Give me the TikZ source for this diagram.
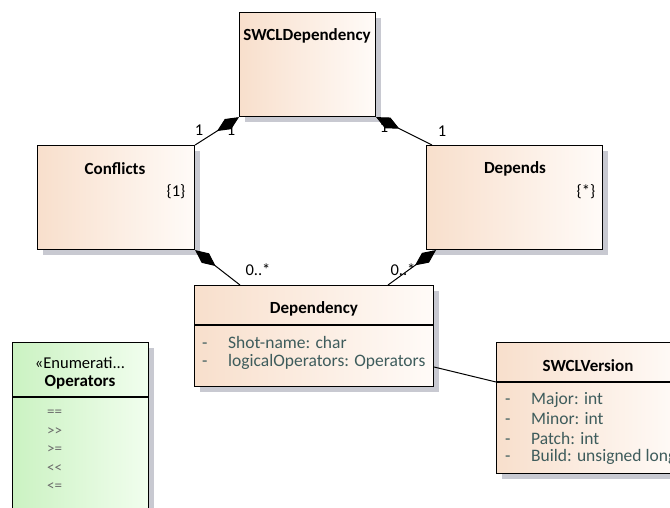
\documentclass[tikz,border=0pt]{standalone}
\usepackage{fontspec}
\setmainfont{Carlito}
\usetikzlibrary{arrows.meta,shadows}

\definecolor{peach}{HTML}{F8DFCC}
\definecolor{peachlight}{HTML}{FFFBF8}
\definecolor{mint}{HTML}{CBF2C2}
\definecolor{mintlight}{HTML}{F1FEEE}
\definecolor{shadowgrey}{HTML}{C8C9D1}
\definecolor{attrtext}{HTML}{3E5C5C}
\definecolor{enumtext}{HTML}{6A6A6A}

\tikzset{
  every node/.style={font=\fontsize{16.5}{19}\selectfont, inner sep=0pt},
  boxbase/.style={draw=black, line width=1.1pt, anchor=north west,
    drop shadow={shadow xshift=5pt, shadow yshift=-5pt, fill=shadowgrey, opacity=1}},
  classbox/.style={boxbase, left color=peach, right color=peachlight},
  enumbox/.style={boxbase, left color=mint, right color=mintlight},
  title/.style={font=\fontsize{17}{19}\selectfont\bfseries},
  constraint/.style={},
  attr/.style={anchor=west, text=attrtext, font=\fontsize{17.5}{19}\selectfont},
  enumitem/.style={anchor=west, text=enumtext, font=\fontsize{15}{19}\selectfont},
  mult/.style={},
  divider/.style={draw=black, line width=1.1pt},
  composition/.style={draw=black, line width=1pt, -{Diamond[length=26pt, width=12pt]}},
  association/.style={draw=black, line width=1pt}
}

\begin{document}
\begin{tikzpicture}[x=1pt, y=-1pt]
\useasboundingbox (0,0) rectangle (670,507);
\clip (0,0) rectangle (670,507);
\fill[white] (0,0) rectangle (670,507);

% class boxes
\node[classbox, minimum width=136pt, minimum height=104pt] (swcl) at (239,12) {};
\node[classbox, minimum width=157pt, minimum height=104pt] (conf) at (37,145) {};
\node[classbox, minimum width=176pt, minimum height=104pt] (deps) at (426,145) {};
\node[classbox, minimum width=239pt, minimum height=101pt] (dep) at (194,285) {};
\node[classbox, minimum width=184pt, minimum height=131pt] (ver) at (496,342) {};
\node[enumbox, minimum width=136pt, minimum height=200pt] (ops) at (12,342) {};

% compartment dividers
\draw[divider] ([yshift=-40pt]dep.north west) -- ([yshift=-40pt]dep.north east);
\draw[divider] ([yshift=-40pt]ver.north west) -- ([yshift=-40pt]ver.north east);
\draw[divider] ([yshift=-55pt]ops.north west) -- ([yshift=-55pt]ops.north east);

% names and constraints
\node[title] (swcl-name) at (307,36) {SWCLDependency};
\node[title] (conf-name) at (115,169) {Conflicts};
\node[constraint] (conf-mult) at (176,192) {\{1\}};
\node[title] (deps-name) at (515,169) {Depends};
\node[constraint] (deps-mult) at (586,192) {\{*\}};
\node[title] (dep-name) at (314,309) {Dependency};
\node[title] (ver-name) at (588,366) {SWCLVersion};
\node (ops-stereo) at (80,363) {«Enumerati...};
\node[title] (ops-name) at (80,382) {Operators};

% attributes
\node[attr] (dep-a1) at (202,342) {\makebox[26pt][l]{-}Shot-name: char};
\node[attr] (dep-a2) at (202,362) {\makebox[26pt][l]{-}logicalOperators: Operators};
\node[attr] (ver-a1) at (505,400) {\makebox[26pt][l]{-}Major: int};
\node[attr] (ver-a2) at (505,419) {\makebox[26pt][l]{-}Minor: int};
\node[attr] (ver-a3) at (505,438) {\makebox[26pt][l]{-}Patch: int};
\node[attr] (ver-a4) at (505,457) {\makebox[26pt][l]{-}Build: unsigned long};

% enumeration literals
\node[enumitem] (op1) at (47,413) {==};
\node[enumitem] (op2) at (47,431.5) {{>}{>}};
\node[enumitem] (op3) at (47,450) {>=};
\node[enumitem] (op4) at (47,468.5) {{<}{<}};
\node[enumitem] (op5) at (47,487) {<=};

% compositions
\draw[composition] (conf.north east) -- (swcl.south west);
\draw[composition] ([xshift=6pt]deps.north west) -- (swcl.south east);
\draw[composition] ([xshift=46pt]dep.north west) -- (conf.south east);
\draw[composition] ([xshift=194pt]dep.north west) -- ([xshift=10pt]deps.south west);

% association
\draw[association] ([yshift=-82pt]dep.north east) -- ([yshift=-40pt]ver.north west);

% multiplicities
\node[mult] (m1) at (199,130) {1};
\node[mult] (m2) at (231,130) {1};
\node[mult] (m3) at (384,127) {1};
\node[mult] (m4) at (442,131) {1};
\node[mult] (m5) at (258,270) {0..*};
\node[mult] (m6) at (403,270) {0..*};
\end{tikzpicture}
\end{document}
